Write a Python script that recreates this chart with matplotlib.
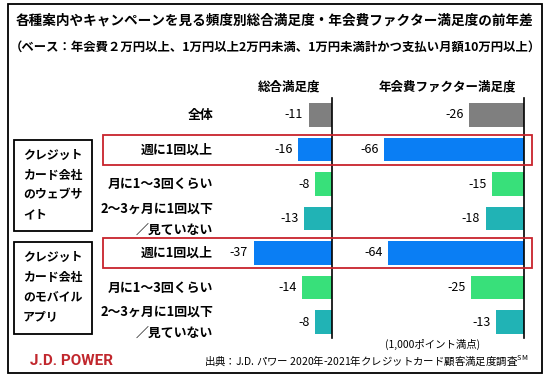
import matplotlib
matplotlib.use("Agg")
import matplotlib.pyplot as plt
from matplotlib.patches import Rectangle

plt.rcParams['font.family'] = ['Noto Sans CJK JP', 'DejaVu Sans']

# data
row_labels = ["全体", "週に1回以上", "月に1～3回くらい", "2～3ヶ月に1回以下\n／見ていない",
              "週に1回以上", "月に1～3回くらい", "2～3ヶ月に1回以下\n／見ていない"]
overall_diff = [-11, -16, -8, -13, -37, -14, -8]
fee_diff = [-26, -66, -15, -18, -64, -25, -13]
row_colors = ["#7f7f7f", "#0a7ef4", "#38e07a", "#21b3b5", "#0a7ef4", "#38e07a", "#21b3b5"]
group_labels = ["クレジット\nカード会社\nのウェブサ\nイト", "クレジット\nカード会社\nのモバイル\nアプリ"]

W, H = 550, 380
fig = plt.figure(figsize=(5.5, 3.8), dpi=100)


def fx(x):
    return x / W


def fy(y):
    return 1 - y / H


def add_panel(left, right, top, bottom):
    return fig.add_axes([fx(left), fy(bottom), fx(right - left), (bottom - top) / H])


# pixel geometry: zero line, 2.12 px per point, rows 34.5 px apart
scale = 2.12
row_h = 34.5
y_top, y_bot = 98, 338
ylim = ((y_bot - 115) / row_h, (y_top - 115) / row_h)

ax1 = add_panel(220, 332, y_top, y_bot)
ax1.set_xlim(-(332 - 220) / scale, 0)
ax2 = add_panel(370, 524, y_top, y_bot)
ax2.set_xlim(-(524 - 370) / scale, 0)

rows = list(range(len(row_labels)))
for ax, vals in [(ax1, overall_diff), (ax2, fee_diff)]:
    ax.barh(rows, vals, height=0.67, color=row_colors)
    ax.set_ylim(*ylim)
    ax.patch.set_alpha(0)
    for s in ["left", "top", "bottom"]:
        ax.spines[s].set_visible(False)
    ax.spines["right"].set_linewidth(1.2)
    ax.set_xticks([])
    ax.set_yticks([])
    for r, v in zip(rows, vals):
        ax.annotate(str(v), (v, r), xytext=(-4, 0), textcoords="offset points",
                    ha="right", va="center", fontsize=9)

# headers
fig.text(fx(289), fy(87), "総合満足度", ha="center", va="center", fontsize=9, fontweight="bold")
fig.text(fx(447), fy(87), "年会費ファクター満足度", ha="center", va="center", fontsize=9, fontweight="bold")

# row labels
for r, lab in zip(rows, row_labels):
    yc = 115 + r * row_h
    parts = lab.split("\n")
    if len(parts) == 1:
        fig.text(fx(213), fy(yc), lab, ha="right", va="center", fontsize=9.3, fontweight="bold")
    else:
        fig.text(fx(213), fy(yc - 10), parts[0], ha="right", va="center", fontsize=9.3, fontweight="bold")
        fig.text(fx(213), fy(yc + 11), parts[1], ha="right", va="center", fontsize=9.3, fontweight="bold")

# group boxes
for (top, bot), lab in zip([(140, 231), (242, 334)], group_labels):
    fig.patches.append(Rectangle((fx(14), fy(bot)), fx(92 - 14), (bot - top) / H,
                                 transform=fig.transFigure, fill=False, ec="black", lw=1.3))
    for i, line in enumerate(lab.split("\n")):
        fig.text(fx(23), fy(top + 15 + i * 20), line, ha="left", va="center",
                 fontsize=8.6, fontweight="bold")

# red highlight boxes
for top, bot in [(135, 165), (238, 268)]:
    fig.patches.append(Rectangle((fx(103), fy(bot)), fx(532 - 103), (bot - top) / H,
                                 transform=fig.transFigure, fill=False, ec="#c8232c", lw=1.3))

# outer frame
fig.patches.append(Rectangle((fx(8), fy(373)), fx(542 - 8), (373 - 4) / H,
                             transform=fig.transFigure, fill=False, ec="black", lw=1.3))

# titles
fig.text(fx(275), fy(21), "各種案内やキャンペーンを見る頻度別総合満足度・年会費ファクター満足度の前年差",
         ha="center", va="center", fontsize=9.8, fontweight="bold")
fig.text(fx(275), fy(47), "（ベース：年会費２万円以上、1万円以上2万円未満、1万円未満計かつ支払い月額10万円以上）",
         ha="center", va="center", fontsize=8.9, fontweight="bold")

# footer
fig.text(fx(433), fy(344), "(1,000ポイント満点)", ha="center", va="center", fontsize=7.5)
fig.text(fx(528), fy(361), r"出典：J.D. パワー 2020年-2021年クレジットカード顧客満足度調査$^{\mathregular{SM}}$",
         ha="right", va="center", fontsize=7.5)
fig.text(fx(30), fy(361), "J.D. POWER", ha="left", va="center", fontsize=11,
         fontweight="bold", color="#c1272d", family="Roboto")

fig.savefig("out.png", dpi=100)
